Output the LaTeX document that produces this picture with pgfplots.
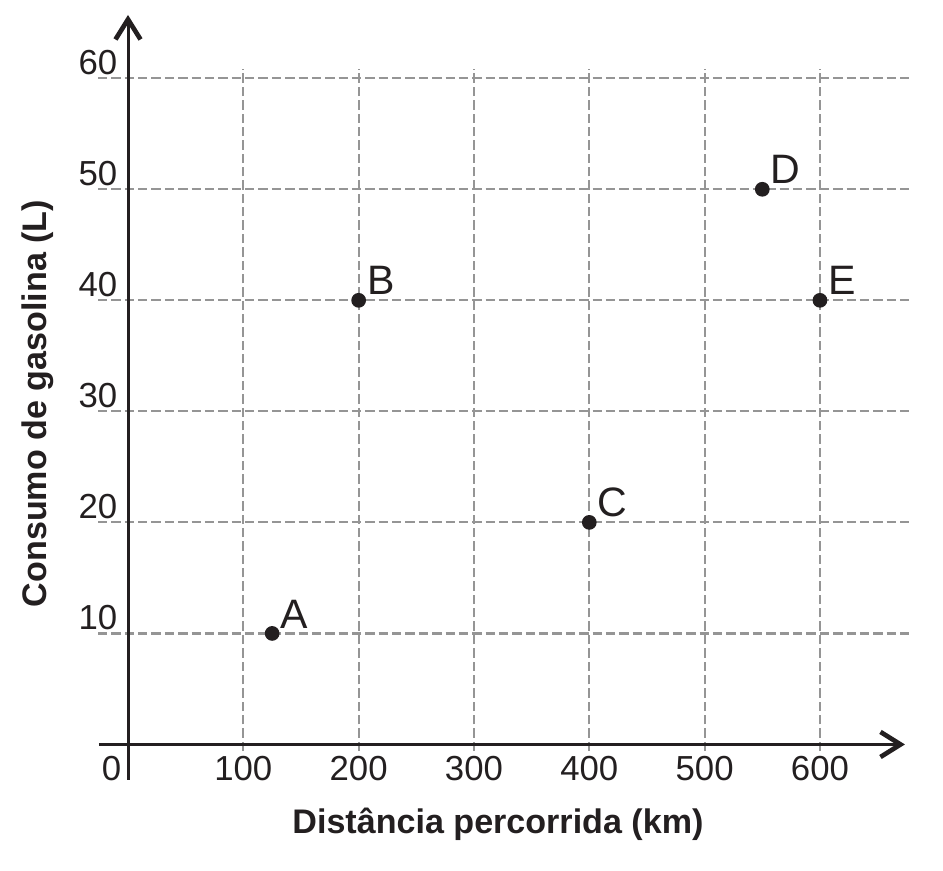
\documentclass[border=0pt]{standalone}
\usepackage{fontspec}
\setmainfont{Liberation Sans}
\usepackage{pgfplots}
\pgfplotsset{compat=1.18}
\usetikzlibrary{arrows.meta}

\definecolor{gridgray}{HTML}{959595}
\definecolor{ink}{HTML}{231F20}

\begin{document}
\begin{tikzpicture}
\begin{axis}[
    scale only axis,
    width=241.2pt,
    height=228.8pt,
    xmin=-25.2, xmax=673.7,
    ymin=-3.16, ymax=65.7,
    enlargelimits=false,
    axis lines=middle,
    axis on top,
    axis line style={ink, line width=0.9pt, -{Straight Barb[length=6pt,width=7.5pt,line width=1.4pt]}},
    xtick={100,200,...,600},
    ytick={10,20,...,60},
    major tick length=0pt,
    /pgf/number format/assume math mode=true,
    ticklabel style={font=\fontsize{10.4}{12}\selectfont, text=ink, inner sep=0pt},
    xticklabel style={anchor=north, yshift=-3.3pt},
    yticklabel style={anchor=south east, xshift=-3pt, yshift=0.9pt},
    xlabel={Distância percorrida (km)},
    ylabel={Consumo de gasolina (L)},
    label style={font=\bfseries\fontsize{10.2}{12}\selectfont, text=ink},
    xlabel style={at={(axis cs:320.8,-7.23)}, anchor=center},
    ylabel style={at={(axis cs:-78,30.7)}, anchor=center, rotate=90},
    clip=false,
]
% bounding box with the reference's margins
\path (axis cs:-111,-11.39) rectangle (axis cs:706.7,67.05);

% dashed grid
\foreach \yy in {10,20,...,60}{
    \edef\tmp{\noexpand\draw[gridgray, line width=0.65pt, dash pattern=on 2.8pt off 1.2pt]
        (axis cs:-26,\yy) -- (axis cs:680.7,\yy);}\tmp
}
\foreach \xx in {100,200,...,600}{
    \edef\tmp{\noexpand\draw[gridgray, line width=0.65pt, dash pattern=on 2.8pt off 1.2pt]
        (axis cs:\xx,-0.6) -- (axis cs:\xx,60.8);}\tmp
}

\node[anchor=north east, inner sep=0pt, xshift=-1.8pt, yshift=-3.3pt,
      font=\fontsize{10.4}{12}\selectfont, text=ink] at (axis cs:0,0) {0};

\addplot[only marks, mark=*, mark size=2pt, color=ink,
    point meta=explicit symbolic,
    nodes near coords,
    nodes near coords style={anchor=south west, inner sep=0pt, xshift=2.4pt, yshift=1.4pt,
        font=\fontsize{12.3}{14}\selectfont, text=ink}]
    table[meta=label] {
x   y   label
125 10  A
200 40  B
400 20  C
550 50  D
600 40  E
};
\end{axis}
\end{tikzpicture}
\end{document}
